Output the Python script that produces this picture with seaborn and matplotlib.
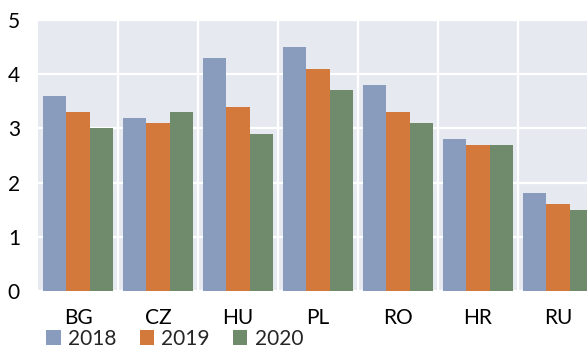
import numpy as np
import pandas as pd
import matplotlib.pyplot as plt
from matplotlib.ticker import FixedLocator
import seaborn as sns

countries = ["BG", "CZ", "HU", "PL", "RO", "HR", "RU"]
years = ["2018", "2019", "2020"]
v2018 = [3.6, 3.2, 4.3, 4.5, 3.8, 2.8, 1.8]
v2019 = [3.3, 3.1, 3.4, 4.1, 3.3, 2.7, 1.6]
v2020 = [3.0, 3.3, 2.9, 3.7, 3.1, 2.7, 1.5]
colors = ["#8a9cbe", "#d4793c", "#708a6c"]

df = pd.DataFrame({
    "country": countries * 3,
    "year": [y for y in years for _ in countries],
    "value": v2018 + v2019 + v2020,
})

sns.set_theme(style="darkgrid")
plt.rcParams["font.family"] = ["Lato", "DejaVu Sans"]

fig = plt.figure(figsize=(5.87, 3.53), dpi=100)
# axes runs a bit past the right edge, as in the original
ax = fig.add_axes([38 / 587, 1 - 291 / 353, 560 / 587, 271 / 353])
ax.set_facecolor("#e7e9f1")

sns.barplot(data=df, x="country", y="value", hue="year", order=countries,
            hue_order=years, palette=colors, saturation=1, width=0.87, ax=ax,
            edgecolor="none", linewidth=0)

ax.set_xlim(-0.5, 6.5)
ax.set_ylim(0, 5)
ax.set_yticks(range(0, 6))
ax.xaxis.set_minor_locator(FixedLocator(np.arange(0.5, 6.5, 1)))
ax.grid(False)
ax.grid(True, axis="y", which="major", color="white", linewidth=1.6)
ax.grid(True, axis="x", which="minor", color="white", linewidth=1.6)
ax.set_axisbelow(True)
for s in ax.spines.values():
    s.set_visible(False)
ax.tick_params(axis="both", which="both", length=0, labelsize=15, colors="black")
ax.tick_params(axis="x", pad=12)
ax.tick_params(axis="y", pad=13)
ax.set_xlabel("")
ax.set_ylabel("")

handles, labels = ax.get_legend_handles_labels()
ax.get_legend().remove()
fig.legend(handles, labels, loc="lower left", bbox_to_anchor=(38 / 587, -0.012),
           ncol=3, frameon=False, fontsize=15, handlelength=0.7,
           handleheight=0.7, handletextpad=0.35, columnspacing=1.1,
           borderaxespad=0)

fig.savefig("out.png", dpi=100)
